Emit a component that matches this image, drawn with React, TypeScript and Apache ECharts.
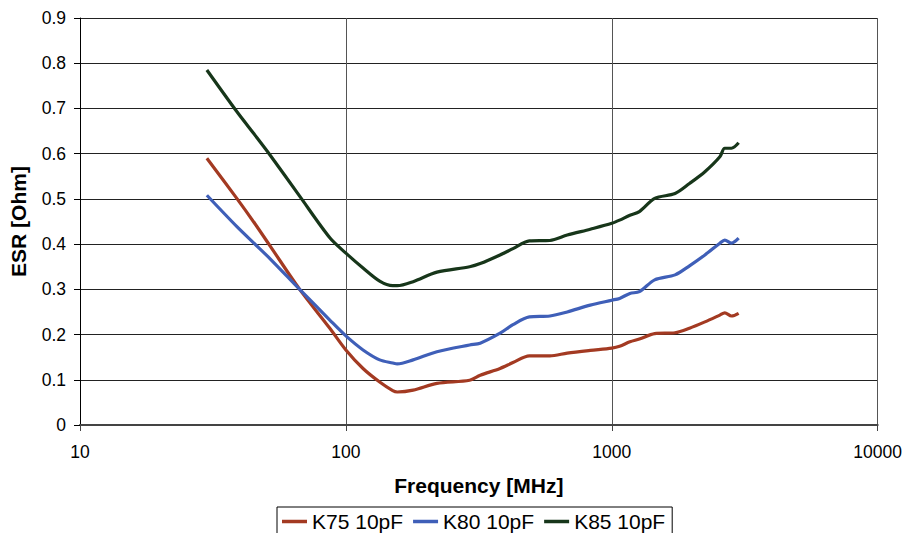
import React, { useEffect, useRef } from "react";
import * as echarts from "echarts";

const freqs = [30, 39, 45.5, 52, 67, 87, 100, 116, 134, 150, 156, 179, 220, 292, 320, 380, 425, 490, 585, 680, 830, 1000, 1070, 1170, 1270, 1450, 1730, 1960, 2240, 2550, 2660, 2820, 3000];
const k75 = [0.59, 0.5, 0.445, 0.395, 0.3, 0.214, 0.166, 0.125, 0.095, 0.076, 0.073, 0.077, 0.092, 0.099, 0.11, 0.125, 0.138, 0.153, 0.153, 0.159, 0.165, 0.17, 0.174, 0.184, 0.19, 0.202, 0.204, 0.214, 0.228, 0.243, 0.248, 0.241, 0.247];
const k80 = [0.508, 0.438, 0.4, 0.367, 0.3, 0.232, 0.197, 0.166, 0.144, 0.137, 0.135, 0.144, 0.162, 0.177, 0.181, 0.203, 0.222, 0.239, 0.241, 0.25, 0.265, 0.276, 0.28, 0.291, 0.295, 0.321, 0.332, 0.352, 0.376, 0.402, 0.409, 0.402, 0.413];
const k85 = [0.785, 0.692, 0.641, 0.596, 0.506, 0.414, 0.38, 0.347, 0.318, 0.308, 0.308, 0.317, 0.338, 0.35, 0.357, 0.376, 0.39, 0.407, 0.408, 0.42, 0.433, 0.446, 0.453, 0.464, 0.472, 0.501, 0.512, 0.534, 0.56, 0.593, 0.612, 0.612, 0.624];
const seriesNames = ["K75 10pF", "K80 10pF", "K85 10pF"];
const seriesColors = ["#A33A22", "#3F5FB8", "#17361A"];

const FONT = "'Liberation Sans', Arial, sans-serif";

export default function App() {
  const ref = useRef<HTMLDivElement>(null);
  useEffect(() => {
    if (!ref.current) return;
    const chart = echarts.init(ref.current, undefined, { renderer: "svg" });
    const all = [k75, k80, k85];
    chart.setOption({
      animation: false,
      backgroundColor: "#ffffff",
      textStyle: { fontFamily: FONT },
      grid: { left: 80, right: 27, top: 18, bottom: 108, containLabel: false },
      legend: {
        data: seriesNames,
        left: 277,
        top: 507,
        padding: [4, 7, 6, 5],
        itemGap: 10,
        itemWidth: 25,
        itemHeight: 3.5,
        icon: "rect",
        borderColor: "#000",
        borderWidth: 1,
        textStyle: { fontSize: 21, color: "#000", fontFamily: FONT },
      },
      xAxis: {
        type: "log",
        logBase: 10,
        min: 10,
        max: 10000,
        name: "Frequency [MHz]",
        nameLocation: "middle",
        nameGap: 50,
        nameTextStyle: { fontSize: 21, fontWeight: "bold", color: "#000", fontFamily: FONT },
        axisLine: { lineStyle: { color: "#444", width: 2 } },
        axisTick: { show: true, length: 6, lineStyle: { color: "#444", width: 1 } },
        axisLabel: {
          fontSize: 17.5,
          color: "#000",
          margin: 18,
          fontFamily: FONT,
          formatter: (v: number) => String(Math.round(v)),
        },
        splitLine: { show: true, lineStyle: { color: "#555", width: 1 } },
        minorTick: { show: false },
        minorSplitLine: { show: false },
      },
      yAxis: {
        type: "value",
        min: 0,
        max: 0.9,
        interval: 0.1,
        name: "ESR [Ohm]",
        nameLocation: "middle",
        nameGap: 51,
        nameRotate: 90,
        nameTextStyle: { fontSize: 21, fontWeight: "bold", color: "#000", fontFamily: FONT },
        axisLine: { show: true, lineStyle: { color: "#000", width: 1 } },
        axisTick: { show: true, length: 6, lineStyle: { color: "#000" } },
        axisLabel: {
          fontSize: 17.5,
          color: "#000",
          margin: 14,
          fontFamily: FONT,
          formatter: (v: number) => String(Math.round(v * 10) / 10),
        },
        splitLine: { show: true, lineStyle: { color: "#222", width: 1 } },
      },
      series: seriesNames.map((name, i) => ({
        name,
        type: "line",
        data: freqs.map((f, j) => [f, all[i][j]]),
        symbol: "none",
        showSymbol: false,
        smooth: 0.3,
        lineStyle: { color: seriesColors[i], width: 3.2 },
        itemStyle: { color: seriesColors[i] },
      })),
    });
    return () => chart.dispose();
  }, []);
  return (
    <div
      ref={ref}
      style={{ position: "absolute", left: 0, top: 0, width: 905, height: 533 }}
    />
  );
}
